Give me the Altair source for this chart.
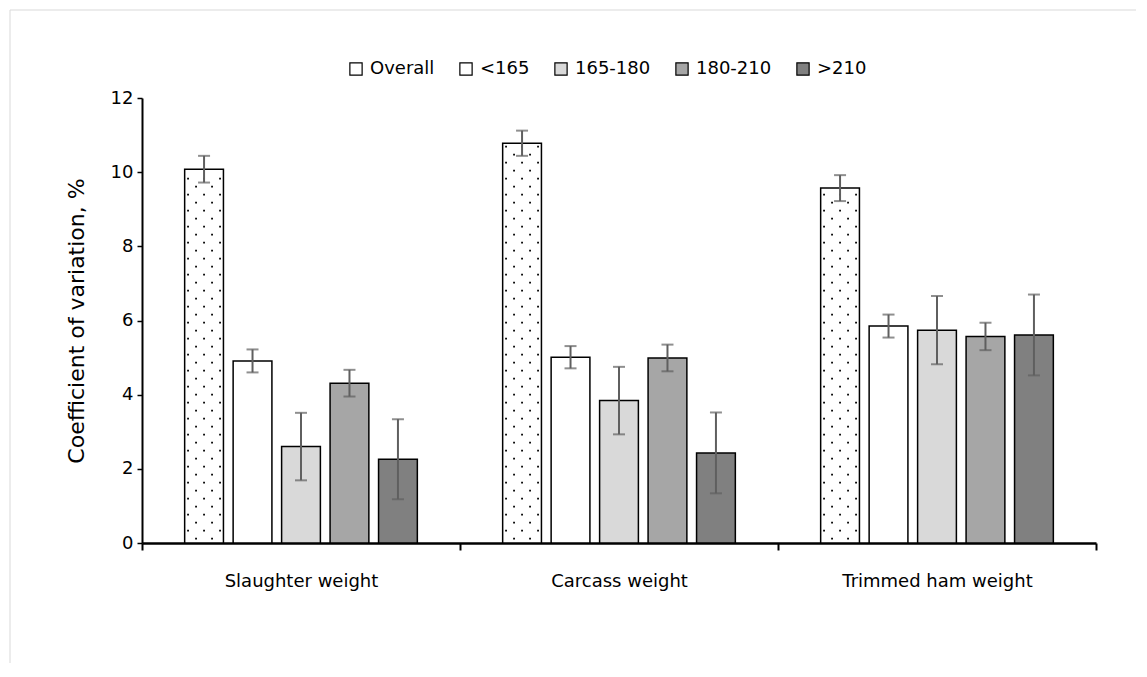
import altair as alt
import pandas as pd

# ---------------- data ----------------
categories = ["Slaughter weight", "Carcass weight", "Trimmed ham weight"]
groups = ["Overall", "<165", "165-180", "180-210", ">210"]
cv_slaughter = [10.08, 4.91, 2.60, 4.31, 2.26]
cv_carcass = [10.78, 5.01, 3.84, 4.99, 2.43]
cv_ham = [9.57, 5.85, 5.74, 5.57, 5.61]
err_slaughter = [0.36, 0.31, 0.91, 0.36, 1.08]
err_carcass = [0.34, 0.30, 0.91, 0.36, 1.09]
err_ham = [0.35, 0.31, 0.92, 0.37, 1.09]
fills = ["#ffffff", "#ffffff", "#d9d9d9", "#a6a6a6", "#808080"]

values = [cv_slaughter, cv_carcass, cv_ham]
errors = [err_slaughter, err_carcass, err_ham]

rows = []
for cat, vals, errs in zip(categories, values, errors):
    for g, v, e in zip(groups, vals, errs):
        rows.append(dict(category=cat, group=g, cv=v, lo=v - e, hi=v + e))
df = pd.DataFrame(rows)

# dotted texture for the "Overall" bars (rows of dots inside each bar)
row_step = 8 * 12 / 445  # 8 px in data units
dots = []
for cat, vals in zip(categories, values):
    top = vals[0]
    k = 0
    yv = 0.12
    while yv < top - 0.08:
        dots.append(dict(category=cat, group="Overall", cv=yv, parity=k % 2))
        k += 1
        yv = 0.12 + k * row_step
dots_df = pd.DataFrame(dots)


def sq(cx, d=0.045):
    return (f"M{cx - d:.3f},{-d:.3f}L{cx + d:.3f},{-d:.3f}"
            f"L{cx + d:.3f},{d:.3f}L{cx - d:.3f},{d:.3f}Z")


path_even = "".join(sq(c) for c in [-0.4, 0.4])
path_odd = "".join(sq(c) for c in [-0.8, 0.0, 0.8])

FONT = "DejaVu Sans"
ERR = "#5f5f5f"

x_enc = alt.X(
    "category:N",
    sort=categories,
    scale=alt.Scale(paddingInner=0, paddingOuter=0),
    axis=alt.Axis(
        title=None, labelAngle=0, tickBand="extent", tickSize=7, tickWidth=2,
        domainWidth=2.5, labelFontSize=18, labelPadding=22, labelColor="black",
        labelFont=FONT, labelLimit=0,
    ),
)
xo_enc = alt.XOffset(
    "group:N", sort=groups,
    scale=alt.Scale(domain=groups, paddingInner=0.2, paddingOuter=0.88),
)
y_axis = alt.Axis(
    values=[0, 2, 4, 6, 8, 10, 12], tickSize=5, tickWidth=1.5, domainWidth=2,
    labelFontSize=18, labelPadding=4, labelFont=FONT, labelColor="black",
    title="Coefficient of variation, %", titleFontSize=22, titleFontWeight="normal",
    titleFont=FONT, titleColor="black", titleX=-66, titleY=222.5, titleAngle=270,
    titleAlign="center", titleBaseline="middle",
)
y_scale = alt.Scale(domain=[0, 12], nice=False)

bars = alt.Chart(df).mark_bar(stroke="black", strokeWidth=1.5).encode(
    x=x_enc,
    xOffset=xo_enc,
    y=alt.Y("cv:Q", scale=y_scale, axis=y_axis),
    fill=alt.Fill(
        "group:N",
        sort=groups,
        scale=alt.Scale(domain=groups, range=fills),
        legend=alt.Legend(
            title=None, orient="none", legendX=205, legendY=-38,
            direction="horizontal", columns=5, symbolType="square",
            symbolSize=150, symbolStrokeColor="black", symbolStrokeWidth=1.2,
            labelFontSize=18, labelFont=FONT, labelColor="black",
            labelOffset=5, columnPadding=22, labelLimit=0,
        ),
    ),
)

dots_even = alt.Chart(dots_df).transform_filter("datum.parity == 0").mark_point(
    shape=path_even, size=1600, filled=True, color="black", opacity=1, strokeWidth=0
).encode(x=x_enc, xOffset=xo_enc, y=alt.Y("cv:Q", scale=y_scale, axis=y_axis))

dots_odd = alt.Chart(dots_df).transform_filter("datum.parity == 1").mark_point(
    shape=path_odd, size=1600, filled=True, color="black", opacity=1, strokeWidth=0
).encode(x=x_enc, xOffset=xo_enc, y=alt.Y("cv:Q", scale=y_scale, axis=y_axis))

err_rule = alt.Chart(df).mark_rule(color=ERR, strokeWidth=2).encode(
    x=x_enc, xOffset=xo_enc,
    y=alt.Y("lo:Q", scale=y_scale, axis=y_axis), y2="hi:Q",
)
cap_lo = alt.Chart(df).mark_tick(color=ERR, thickness=2, size=12, orient="horizontal").encode(
    x=x_enc, xOffset=xo_enc, y=alt.Y("lo:Q", scale=y_scale, axis=y_axis),
)
cap_hi = alt.Chart(df).mark_tick(color=ERR, thickness=2, size=12, orient="horizontal").encode(
    x=x_enc, xOffset=xo_enc, y=alt.Y("hi:Q", scale=y_scale, axis=y_axis),
)

frame_df = pd.DataFrame({"k": [0]})
frame_top = alt.Chart(frame_df).mark_rule(color="#d9d9d9", strokeWidth=1).encode(
    x=alt.value(-132), x2=alt.value(1010), y=alt.value(-88)
)
frame_left = alt.Chart(frame_df).mark_rule(color="#d9d9d9", strokeWidth=1).encode(
    x=alt.value(-132), y=alt.value(-88), y2=alt.value(600)
)

chart = alt.layer(
    frame_top, frame_left, bars, dots_even, dots_odd, err_rule, cap_lo, cap_hi
).properties(
    width=954, height=445,
    padding={"left": 134, "top": 90, "right": 40, "bottom": 120},
    autosize="none",
).configure_view(stroke=None).configure_axis(
    grid=False, domainColor="black", tickColor="black"
)

chart.save("out.html", embed_options={"renderer": "svg", "actions": False})
